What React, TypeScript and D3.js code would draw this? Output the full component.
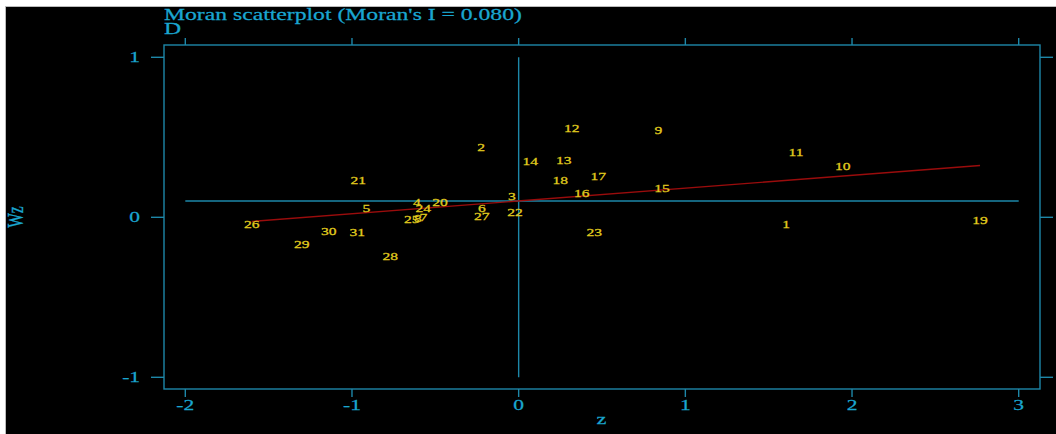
import {useEffect, useRef} from "react";
import * as d3 from "d3";

// region ids and their (z, Wz) values
const ids = [1, 2, 3, 4, 5, 6, 7, 8, 9, 10, 11, 12, 13, 14, 15, 16, 17, 18, 19, 20, 21, 22, 23, 24, 25, 26, 27, 28, 29, 30, 31];
const zVals = [1.604, -0.225, -0.041, -0.611, -0.914, -0.221, -0.571, -0.604, 0.838, 1.944, 1.664, 0.319, 0.271, 0.070, 0.860, 0.379, 0.478, 0.250, 2.768, -0.472, -0.963, -0.022, 0.454, -0.572, -0.641, -1.601, -0.221, -0.771, -1.301, -1.139, -0.969];
const wzVals = [-0.044, 0.435, 0.129, 0.091, 0.052, 0.056, -0.003, -0.007, 0.541, 0.316, 0.404, 0.552, 0.358, 0.346, 0.177, 0.146, 0.254, 0.227, -0.017, 0.094, 0.233, 0.031, -0.092, 0.056, -0.011, -0.044, 0.006, -0.248, -0.167, -0.090, -0.092];

const xTicks = [-2, -1, 0, 1, 2, 3];
const yTicks = [-1, 0, 1];
const moranI = 0.080;
const meanWz = 0.102;

const title = "Moran scatterplot (Moran's I = 0.080)";
const subtitle = "D";

export default function App() {
    const ref = useRef<SVGSVGElement>(null);

    useEffect(() => {
        const svg = d3.select(ref.current);
        svg.selectAll("*").remove();

        const SX = 1.48; // the source picture is stretched sideways, so is its text
        const font = "'Liberation Serif', 'Times New Roman', serif";
        const textCol = "#1aa6d0";
        const lineCol = "#1d87a8";
        const lw = 1.4;

        const left = 164, right = 1040, top = 45, bottom = 389;
        const x = d3.scaleLinear().domain([-2, 3]).range([185.3, 1018.7]);
        const y = d3.scaleLinear().domain([-1, 1]).range([377.3, 57.3]);

        // background
        svg.append("rect").attr("width", 1056).attr("height", 434).attr("fill", "#fff");
        svg.append("rect").attr("x", 5.5).attr("y", 6.5).attr("width", 1056).attr("height", 434)
            .attr("fill", "#000").attr("stroke", "#bbb").attr("stroke-width", 1);

        const label = (tx: number, ty: number, s: string, size: number, fill: string, anchor = "middle", rot = 0) => {
            svg.append("text")
                .attr("transform", `translate(${tx},${ty}) scale(${SX},1)` + (rot ? ` rotate(${rot})` : ""))
                .attr("text-anchor", anchor)
                .attr("font-family", font)
                .attr("font-size", size)
                .attr("fill", fill)
                .attr("stroke", fill)
                .attr("stroke-width", 0.25)
                .text(s);
        };

        // frame
        svg.append("rect")
            .attr("x", left).attr("y", top)
            .attr("width", right - left).attr("height", bottom - top)
            .attr("fill", "none").attr("stroke", lineCol).attr("stroke-width", lw);

        // ticks on all four sides
        xTicks.forEach(t => {
            svg.append("line").attr("x1", x(t)).attr("x2", x(t)).attr("y1", bottom).attr("y2", bottom + 8)
                .attr("stroke", lineCol).attr("stroke-width", lw);
            svg.append("line").attr("x1", x(t)).attr("x2", x(t)).attr("y1", top - 7).attr("y2", top)
                .attr("stroke", lineCol).attr("stroke-width", lw);
            label(x(t), 410, String(t), 14.5, textCol);
        });
        yTicks.forEach(t => {
            svg.append("line").attr("x1", left - 13).attr("x2", left).attr("y1", y(t)).attr("y2", y(t))
                .attr("stroke", lineCol).attr("stroke-width", lw);
            svg.append("line").attr("x1", right).attr("x2", right + 13).attr("y1", y(t)).attr("y2", y(t))
                .attr("stroke", lineCol).attr("stroke-width", lw);
            label(140, y(t) + 5, String(t), 14.5, textCol, "end");
        });

        // mean lines
        svg.append("line").attr("x1", x(-2)).attr("x2", x(3)).attr("y1", y(meanWz)).attr("y2", y(meanWz))
            .attr("stroke", lineCol).attr("stroke-width", lw);
        svg.append("line").attr("x1", x(0)).attr("x2", x(0)).attr("y1", y(1)).attr("y2", y(-1))
            .attr("stroke", lineCol).attr("stroke-width", lw);

        // fitted line, slope = Moran's I
        const [zMin, zMax] = d3.extent(zVals) as [number, number];
        svg.append("line")
            .attr("x1", x(zMin)).attr("y1", y(meanWz + moranI * zMin))
            .attr("x2", x(zMax)).attr("y2", y(meanWz + moranI * zMax))
            .attr("stroke", "#9a0c0c").attr("stroke-width", lw);

        // point labels
        ids.forEach((id, i) => {
            label(x(zVals[i]), y(wzVals[i]) + 3.5, String(id), 10.5, "#e2cd1e");
        });

        // titles
        label(164, 19.5, title, 16, textCol, "start");
        label(164, 33.5, subtitle, 16, textCol, "start");
        label(601.5, 423.5, "z", 15, textCol);
        label(23, 217, "Wz", 15.5, textCol, "middle", -90);
    }, []);

    return <svg ref={ref} width={1056} height={434}
                style={{position: "absolute", left: 0, top: 0, display: "block"}}></svg>;
}
